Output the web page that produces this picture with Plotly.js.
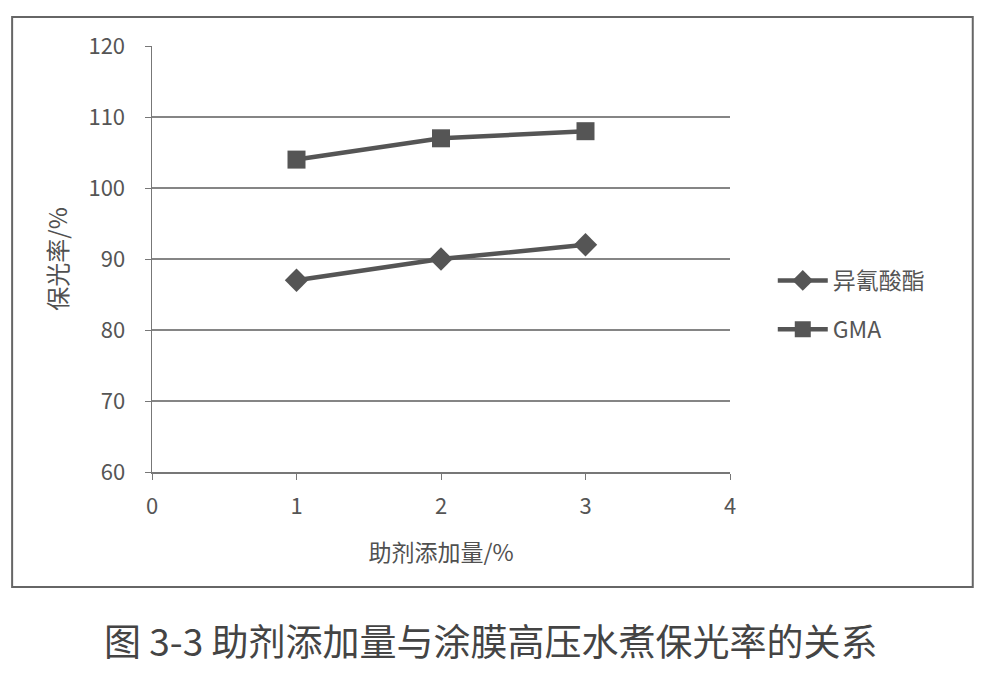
<!DOCTYPE html>
<html>
<head>
<meta charset="utf-8">
<script src="https://cdn.plot.ly/plotly-3.0.1.min.js"></script>
<style>html,body{margin:0;padding:0;background:#fff;}#chart{width:987px;height:674px;}</style>
</head>
<body>
<div id="chart"></div>
<script>
const xValues = [1, 2, 3];
const isocyanate = [87, 90, 92];
const gma = [104, 107, 108];
const seriesNames = ['异氰酸酯', 'GMA'];
const yTicks = [60, 70, 80, 90, 100, 110, 120];
const xTicks = [0, 1, 2, 3, 4];

const font = "'Noto Sans CJK SC', 'Open Sans', sans-serif";
const lineColor = '#555555';

const traces = [
  {x: xValues, y: isocyanate, name: seriesNames[0], type: 'scatter', mode: 'lines+markers',
   legendgroup: 'a',
   line: {color: lineColor, width: 4.5}, marker: {symbol: 'diamond', size: 18, color: '#555'}},
  {x: xValues, y: gma, name: seriesNames[1], type: 'scatter', mode: 'lines+markers',
   legendgroup: 'b',
   line: {color: lineColor, width: 4.5}, marker: {symbol: 'square', size: 18, color: '#555'}}
];

const layout = {
  width: 987, height: 674,
  paper_bgcolor: '#ffffff', plot_bgcolor: '#ffffff',
  margin: {l: 152, r: 257, t: 46, b: 202},
  font: {family: font, color: '#505050'},
  showlegend: true,
  legend: {x: 1.074, y: 0.5, xanchor: 'left', yanchor: 'top', font: {size: 23, color: '#555', family: font},
           itemwidth: 50, tracegroupgap: 16, bgcolor: 'rgba(0,0,0,0)'},
  xaxis: {range: [0, 4], tickvals: xTicks, ticktext: xTicks.map(String), showgrid: false, zeroline: false,
          showline: true, linecolor: '#777', linewidth: 1.5, ticks: 'outside', ticklen: 6, tickcolor: '#777',
          tickfont: {size: 22, color: '#555'}, ticklabelstandoff: 8, fixedrange: true,
          title: {text: '助剂添加量/%', font: {size: 23, color: '#505050'}, standoff: 26}},
  yaxis: {range: [60, 120], tickvals: yTicks, showgrid: true, gridcolor: '#858585', gridwidth: 1.5, zeroline: false,
          showline: true, linecolor: '#777', linewidth: 1.5, ticks: 'outside', ticklen: 6, tickcolor: '#777',
          tickfont: {size: 22, color: '#555'}, ticklabelstandoff: 15, fixedrange: true,
          title: {text: '保光率/%', font: {size: 24, color: '#505050'}, standoff: 14}},
  shapes: [
    {type: 'rect', xref: 'paper', yref: 'paper', x0: -0.242, x1: 1.420, y0: -0.270, y1: 1.068,
     line: {color: '#666', width: 2}, fillcolor: 'rgba(0,0,0,0)', layer: 'below'}
  ],
  annotations: [
    {text: '图 3-3 助剂添加量与涂膜高压水煮保光率的关系', xref: 'paper', yref: 'paper',
     x: (490 - 152) / 578, y: (472 - 640) / 426, xanchor: 'center', yanchor: 'middle', showarrow: false,
     font: {size: 37, color: '#444', family: font}}
  ]
};

Plotly.newPlot('chart', traces, layout, {displayModeBar: false, staticPlot: true});
</script>
</body>
</html>
